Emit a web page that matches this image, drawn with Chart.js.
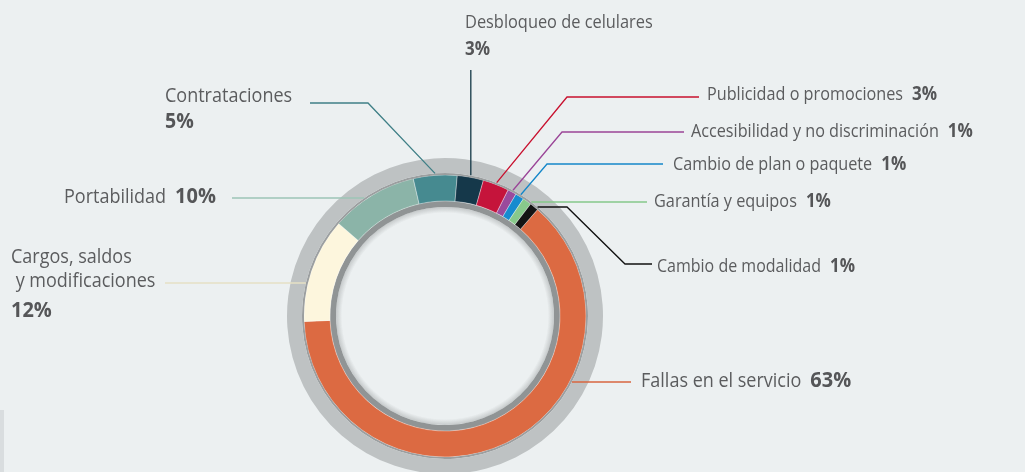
<!DOCTYPE html>
<html>
<head>
<meta charset="utf-8">
<script src="https://cdn.jsdelivr.net/npm/chart.js@4.4.0/dist/chart.umd.min.js"></script>
<style>
  html, body { margin: 0; padding: 0; background: #ecf0f1; overflow: hidden; }
  #wrap { position: relative; width: 1025px; height: 472px; }
  #strip { position: absolute; left: 0; top: 410px; width: 4px; height: 62px; background: #d9dddf; }
</style>
</head>
<body>
<div id="wrap">
  <canvas id="chart" width="1025" height="472"></canvas>
  <div id="strip"></div>
</div>
<script>
// data
const categories = [
  "Fallas en el servicio",
  "Cargos, saldos\n y modificaciones",
  "Portabilidad",
  "Contrataciones",
  "Desbloqueo de celulares",
  "Publicidad o promociones",
  "Accesibilidad y no discriminación",
  "Cambio de plan o paquete",
  "Garantía y equipos",
  "Cambio de modalidad",
];
const shares = [63, 12, 10, 5, 3, 3, 1, 1, 1, 1];

const sliceColors = [
  "#dc6a42", "#fdf6dd", "#8bb4a8", "#468a90", "#15384a",
  "#c5143b", "#9a4a9c", "#168bcf", "#88c98b", "#141414",
];
const lineColors = [
  "#d9663f", "#e6e0c4", "#9cc4b6", "#3f7f86", "#123645",
  "#c8102e", "#9a4497", "#1487c9", "#86c98a", "#111111",
];

// label placement (x/y = first text baseline), path = elbow points from label toward ring
const LABEL_LAYOUT = [
  { x: 641, y: 387, fs: 18, bfs: 20, path: [[631, 382]], hz: true },
  { x: 11, y: 263, fs: 18, bfs: 20, pctY: 317, path: [[165, 283]], hz: true },
  { x: 64, y: 203, fs: 18, bfs: 20, path: [[232, 198]], hz: true },
  { x: 165, y: 102, fs: 18, bfs: 19.5, pctY: 128, path: [[310, 103], [368, 103]] },
  { x: 465, y: 28, fs: 16.4, bfs: 17, pctY: 55, vert: 70 },
  { x: 707, y: 100, fs: 16.2, bfs: 17, path: [[699, 97], [567, 97]] },
  { x: 691, y: 137, fs: 16.2, bfs: 17, path: [[684, 132], [562, 132]] },
  { x: 673, y: 170, fs: 16.2, bfs: 17, path: [[663, 164], [547, 164]] },
  { x: 654, y: 207, fs: 16.3, bfs: 17, path: [[647, 202]], hz: true },
  { x: 657, y: 272, fs: 16, bfs: 17, path: [[652, 264], [625, 264], [567, 207]], hz: true },
];

const FONT = '"Open Sans", sans-serif';
const TEXT_COLOR = "#5b5c5e";
const ANCHOR_R = 143;
const SQUEEZE = 0.9; // the original face is narrower than Open Sans

function squeezedText(ctx, text, x, y) {
  ctx.save();
  ctx.translate(x, y);
  ctx.scale(SQUEEZE, 1);
  ctx.fillText(text, 0, 0);
  ctx.restore();
  return ctx.measureText(text).width * SQUEEZE;
}

const calloutPlugin = {
  id: "callouts",
  afterDraw(chart) {
    const ctx = chart.ctx;
    const meta = chart.getDatasetMeta(2);
    ctx.save();

    // soft shadow inside the inner grey ring
    const inner = chart.getDatasetMeta(3).data[0];
    if (inner) {
      const c = inner.getProps(["x", "y", "innerRadius"], true);
      const g = ctx.createRadialGradient(c.x, c.y, c.innerRadius - 6, c.x, c.y, c.innerRadius);
      g.addColorStop(0, "rgba(150,154,155,0)");
      g.addColorStop(1, "rgba(150,154,155,0.45)");
      ctx.fillStyle = g;
      ctx.beginPath();
      ctx.arc(c.x, c.y, c.innerRadius, 0, Math.PI * 2);
      ctx.arc(c.x, c.y, c.innerRadius - 6, 0, Math.PI * 2, true);
      ctx.fill();
    }

    meta.data.forEach((arc, i) => {
      const cfg = LABEL_LAYOUT[i];
      const p = arc.getProps(["x", "y", "startAngle", "endAngle"], true);
      const mid = (p.startAngle + p.endAngle) / 2;
      const pts = [];
      let anchor;
      if (cfg.vert !== undefined) {
        anchor = [p.x + ANCHOR_R * Math.cos(mid), p.y + ANCHOR_R * Math.sin(mid)];
        pts.push([anchor[0], cfg.vert]);
      } else {
        pts.push(...cfg.path);
        const last = cfg.path[cfg.path.length - 1];
        if (cfg.hz) {
          const dy = last[1] - p.y;
          const dx = Math.sqrt(Math.max(ANCHOR_R * ANCHOR_R - dy * dy, 0));
          anchor = [p.x + Math.sign(Math.cos(mid)) * dx, last[1]];
        } else {
          anchor = [p.x + ANCHOR_R * Math.cos(mid), p.y + ANCHOR_R * Math.sin(mid)];
        }
      }
      pts.push(anchor);

      ctx.strokeStyle = lineColors[i];
      ctx.lineWidth = 1.3;
      ctx.beginPath();
      pts.forEach(([px, py], k) => (k ? ctx.lineTo(px, py) : ctx.moveTo(px, py)));
      ctx.stroke();

      // texts
      const lines = chart.data.labels[i].split("\n");
      ctx.fillStyle = TEXT_COLOR;
      ctx.textBaseline = "alphabetic";
      ctx.textAlign = "left";
      ctx.font = (cfg.fs / SQUEEZE).toFixed(1) + "px " + FONT;
      let endX = cfg.x;
      lines.forEach((t, k) => {
        endX = cfg.x + squeezedText(ctx, t, cfg.x, cfg.y + k * 24);
      });
      const pct = chart.data.datasets[2].data[i] + "%";
      ctx.font = "bold " + (cfg.bfs / SQUEEZE).toFixed(1) + "px " + FONT;
      ctx.fillStyle = "#555658";
      if (cfg.pctY) {
        squeezedText(ctx, pct, cfg.x, cfg.pctY);
      } else {
        squeezedText(ctx, pct, endX + 9, cfg.y);
      }
    });
    ctx.restore();
  },
};

new Chart(document.getElementById("chart"), {
  type: "doughnut",
  data: {
    labels: categories,
    datasets: [
      { data: [1], backgroundColor: ["#bec2c3"], borderWidth: 0, weight: 15 },
      { data: [1], backgroundColor: ["#9c9fa0"], borderWidth: 0, weight: 2 },
      {
        data: shares,
        backgroundColor: sliceColors,
        borderColor: "rgba(255,255,255,0.35)",
        borderWidth: 1,
        weight: 26,
      },
      { data: [1], backgroundColor: ["#909495"], borderWidth: 0, weight: 6 },
    ],
  },
  options: {
    responsive: false,
    animation: false,
    events: [],
    rotation: 41,
    radius: 158,
    cutout: "69%",
    layout: { padding: { left: 0, right: 135, top: 160, bottom: 0 } },
    plugins: {
      legend: { display: false },
      tooltip: { enabled: false },
    },
  },
  plugins: [calloutPlugin],
});
</script>
</body>
</html>
